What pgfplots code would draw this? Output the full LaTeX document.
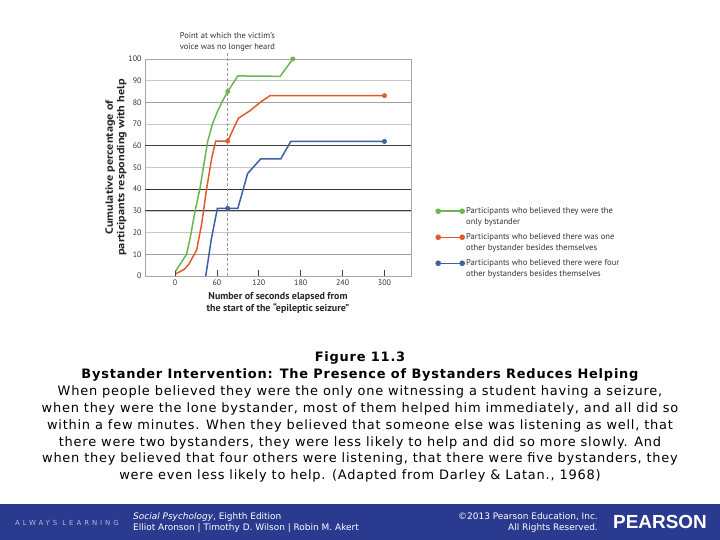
\documentclass[border=0pt]{standalone}
\usepackage{fontspec}
\setmainfont{DejaVu Sans}
\newfontfamily\chartfont{PT Sans}
\newfontfamily\logofont{Liberation Sans}
\usepackage{pgfplots}
\pgfplotsset{compat=1.18}
\definecolor{cgreen}{RGB}{108,182,80}
\definecolor{corange}{RGB}{226,90,44}
\definecolor{cblue}{RGB}{60,96,160}
\definecolor{band}{RGB}{42,58,143}
\definecolor{footgray}{RGB}{175,185,215}
\begin{document}
\begin{tikzpicture}[x=1bp,y=1bp]
\useasboundingbox (0,0) rectangle (720,540);
\fill[white] (0,0) rectangle (720,540);
\begin{axis}[
  at={(145bp,264bp)}, anchor=south west,
  scale only axis, width=266bp, height=217bp,
  xmin=-43, xmax=338, ymin=0, ymax=100,
  xtick={0,60,120,180,240,300},
  ytick={0,10,...,100},
  xtick pos=bottom, ytick pos=left,
  tick align=inside,
  major tick length=6bp,
  xtick style={black!75, line width=0.8bp},
  ytick style={draw=none},
  axis line style={gray!70, line width=0.8bp},
  ymajorgrids, major grid style={gray!45, line width=0.7bp},
  tick label style={font=\chartfont\fontsize{8}{9}\selectfont, text=black!80},
  /pgf/number format/assume math mode=true,
  xlabel={Number of seconds elapsed from\\the start of the “epileptic seizure”},
  ylabel={\scalebox{1.17}[1]{Cumulative percentage of}\\\scalebox{1.17}[1]{participants responding with help}},
  xlabel style={font=\chartfont\bfseries\fontsize{10}{12}\selectfont, align=center, text=black!85},
  ylabel style={font=\chartfont\bfseries\fontsize{10.5}{11.5}\selectfont, align=center, text=black!85, yshift=-5bp},
  legend style={at={(1.094,0.327)}, anchor=north west, draw=none, fill=none,
    font=\chartfont\fontsize{8.6}{11}\selectfont, text=black!80,
    cells={anchor=base west, align=left}, row sep=3.5bp, inner sep=0pt},
  legend image code/.code={\draw[mark repeat=1,mark phase=1,#1] plot coordinates {(0bp,13bp) (24bp,13bp)};},
  clip=false,
]
\draw[gray!75, line width=0.9bp] (axis cs:-43,10) -- (axis cs:338,10);
\draw[black!75, line width=0.8bp] (axis cs:-43,30) -- (axis cs:338,30);
\draw[black!80, line width=0.8bp] (axis cs:-43,40) -- (axis cs:338,40);
\draw[black!75, line width=0.8bp] (axis cs:-43,60) -- (axis cs:338,60);
\draw[gray!75, line width=0.9bp] (axis cs:-43,80) -- (axis cs:338,80);
\draw[gray!80, dash pattern=on 3bp off 2bp, line width=0.7bp] (axis cs:75,0) -- (axis cs:75,103);
\node[anchor=south, align=center, font=\chartfont\fontsize{8.5}{11}\selectfont, inner sep=0pt, text=black!80] at (axis cs:75,103.5) {Point at which the victim’s\\voice was no longer heard};

\addplot[cgreen, line width=1.5bp, forget plot] coordinates {
(0.9,2.2) (16.7,10.1) (22,18) (28.7,30) (35.8,40.5) (40.6,50) (46.8,62) (53.5,70) (61,76) (67,80) (75.5,85) (90,92.2) (150.5,92) (168.7,100)};
\addplot[cgreen, only marks, mark=*, mark size=2.2bp, forget plot] coordinates {(75.5,85) (168.7,100)};

\addplot[corange, line width=1.5bp, forget plot] coordinates {
(1,1) (13,3) (20,5.5) (31,12) (38,23.7) (45.4,40.5) (52.6,54.4) (58.3,62.2) (75.5,62.2) (90.8,72.7) (107.5,76.2) (122.8,80.2) (136,83.1) (300,83.1)};
\addplot[corange, only marks, mark=*, mark size=2.2bp, forget plot] coordinates {(75.5,62.2) (300,83.1)};

\addplot[cblue, line width=1.5bp, forget plot] coordinates {
(44,0) (52,17) (60.7,31.2) (90,31.2) (104,47.2) (122.8,54) (151.5,54) (165.8,62) (300,62)};
\addplot[cblue, only marks, mark=*, mark size=2.2bp, forget plot] coordinates {(75.5,31.2) (300,62)};

\addlegendimage{cgreen, line width=1.5bp, mark=*, mark size=2bp}
\addlegendentry{Participants who believed they were the\\only bystander}
\addlegendimage{corange, line width=1.5bp, mark=*, mark size=2bp}
\addlegendentry{Participants who believed there was one\\other bystander besides themselves}
\addlegendimage{cblue, line width=1.5bp, mark=*, mark size=2bp}
\addlegendentry{Participants who believed there were four\\other bystanders besides themselves}
\end{axis}

\begin{scope}[every node/.style={anchor=base, inner sep=0pt, font=\fontsize{13}{15}\selectfont\addfontfeatures{LetterSpace=6}}]
\node at (360,178) {\bfseries Figure 11.3};
\node at (360,161) {\bfseries Bystander Intervention: The Presence of Bystanders Reduces Helping};
\node at (360,144) {When people believed they were the only one witnessing a student having a seizure,};
\node at (360,127) {when they were the lone bystander, most of them helped him immediately, and all did so};
\node at (360,110) {within a few minutes. When they believed that someone else was listening as well, that};
\node at (360,93) {there were two bystanders, they were less likely to help and did so more slowly. And};
\node at (360,77) {when they believed that four others were listening, that there were five bystanders, they};
\node at (360,60) {were even less likely to help. (Adapted from Darley \& Latan., 1968)};
\end{scope}

\fill[band] (0,0) rectangle (720,36);
\node[anchor=base west, inner sep=0pt, text=footgray, font=\fontsize{7}{8}\selectfont\addfontfeatures{LetterSpace=42}] at (15,14.5) {ALWAYS LEARNING};
\node[anchor=base west, inner sep=0pt, text=white, font=\fontsize{9}{10}\selectfont] at (133,20.5) {\itshape Social Psychology\upshape, Eighth Edition};
\node[anchor=base west, inner sep=0pt, text=white, font=\fontsize{9}{10}\selectfont] at (133,9) {Elliot Aronson | Timothy D. Wilson | Robin M. Akert};
\node[anchor=base east, inner sep=0pt, text=white, font=\fontsize{9}{10}\selectfont] at (598,20.5) {©2013 Pearson Education, Inc.};
\node[anchor=base east, inner sep=0pt, text=white, font=\fontsize{9}{10}\selectfont] at (598,9) {All Rights Reserved.};
\node[anchor=base west, inner sep=0pt, text=white, font=\logofont\bfseries\fontsize{19}{20}\selectfont] at (613,11) {PEARSON};
\end{tikzpicture}
\end{document}
